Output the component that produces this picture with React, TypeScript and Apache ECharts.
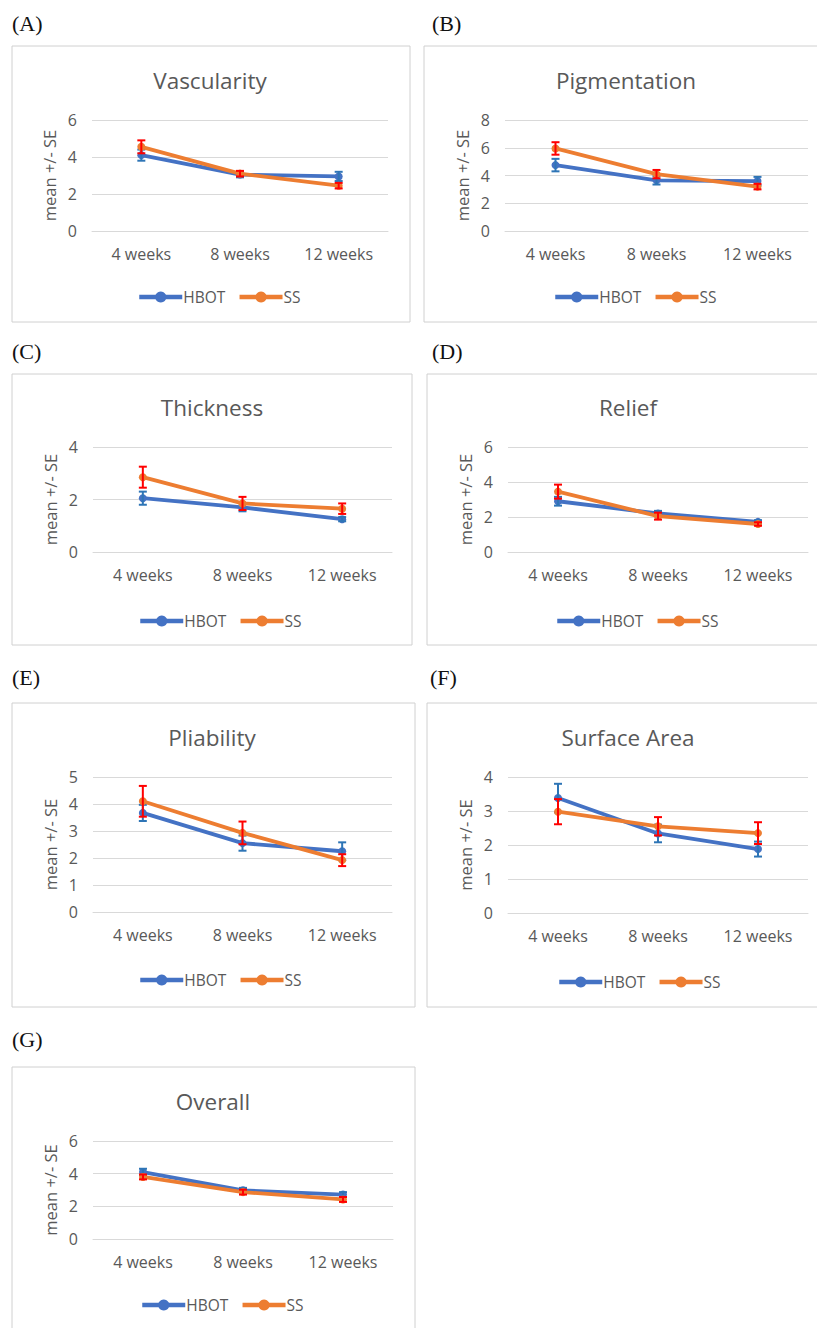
import React, { useEffect, useRef } from "react";
import * as echarts from "echarts";

const categories = ["4 weeks", "8 weeks", "12 weeks"];
const seriesNames = ["HBOT", "SS"];

const vascHBOT = [4.1, 3.05, 2.95];
const vascHBOTse = [0.3, 0.15, 0.25];
const vascSS = [4.55, 3.1, 2.45];
const vascSSse = [0.35, 0.15, 0.15];

const pigHBOT = [4.75, 3.65, 3.6];
const pigHBOTse = [0.45, 0.3, 0.3];
const pigSS = [5.95, 4.1, 3.2];
const pigSSse = [0.45, 0.3, 0.2];

const thickHBOT = [2.05, 1.7, 1.25];
const thickHBOTse = [0.25, 0.15, 0.08];
const thickSS = [2.85, 1.85, 1.65];
const thickSSse = [0.4, 0.25, 0.2];

const reliefHBOT = [2.9, 2.2, 1.72];
const reliefHBOTse = [0.25, 0.15, 0.1];
const reliefSS = [3.45, 2.05, 1.6];
const reliefSSse = [0.4, 0.2, 0.1];

const pliHBOT = [3.67, 2.55, 2.25];
const pliHBOTse = [0.3, 0.28, 0.33];
const pliSS = [4.1, 2.93, 1.92];
const pliSSse = [0.57, 0.42, 0.22];

const surfHBOT = [3.38, 2.34, 1.88];
const surfHBOTse = [0.42, 0.26, 0.22];
const surfSS = [2.98, 2.55, 2.35];
const surfSSse = [0.37, 0.27, 0.32];

const overallHBOT = [4.1, 2.98, 2.72];
const overallHBOTse = [0.2, 0.15, 0.15];
const overallSS = [3.8, 2.87, 2.42];
const overallSSse = [0.15, 0.15, 0.15];

const panelLabels = ["(A)", "(B)", "(C)", "(D)", "(E)", "(F)", "(G)"];
const panelTitles = ["Vascularity", "Pigmentation", "Thickness", "Relief", "Pliability", "Surface Area", "Overall"];
const yMax = [6, 8, 4, 6, 5, 4, 6];
const yStep = [2, 2, 2, 2, 1, 1, 2];

const dataSets = [
  [vascHBOT, vascHBOTse, vascSS, vascSSse],
  [pigHBOT, pigHBOTse, pigSS, pigSSse],
  [thickHBOT, thickHBOTse, thickSS, thickSSse],
  [reliefHBOT, reliefHBOTse, reliefSS, reliefSSse],
  [pliHBOT, pliHBOTse, pliSS, pliSSse],
  [surfHBOT, surfHBOTse, surfSS, surfSSse],
  [overallHBOT, overallHBOTse, overallSS, overallSSse],
];

// layout (pixels)
const layout = [
  { box: [12, 46, 398, 276], grid: [92, 120, 296, 111], title: [210, 80], label: [12, 23], legend: [132, 293] },
  { box: [424, 46, 400, 276], grid: [505, 120, 303, 111], title: [626, 80], label: [432, 23], legend: [548, 293] },
  { box: [12, 374, 400, 271], grid: [93, 447, 299, 105], title: [212, 407], label: [12, 351], legend: [133, 617] },
  { box: [427, 374, 400, 271], grid: [508, 447, 300, 105], title: [628, 407], label: [432, 351], legend: [550, 617] },
  { box: [12, 703, 403, 304], grid: [93, 777, 299, 135], title: [212, 737], label: [12, 677], legend: [133, 976] },
  { box: [427, 703, 400, 304], grid: [508, 777, 300, 136], title: [628, 737], label: [430, 677], legend: [552, 978] },
  { box: [12, 1067, 403, 280], grid: [93, 1141, 300, 98], title: [213, 1101], label: [12, 1039], legend: [135, 1301] },
];

const FONT = "'Open Sans', sans-serif";
const TXT = "#595959";
const GRID_C = "#D9D9D9";
const LINE_COLORS = ["#4472C4", "#ED7D31"];
const ERR_COLORS = ["#2E75B6", "#FF0000"];

function errRender(color: string) {
  return (params: any, api: any) => {
    const x = api.value(0);
    const lo = api.coord([x, api.value(1)]);
    const hi = api.coord([x, api.value(2)]);
    const w = 4;
    const st = { stroke: color, lineWidth: 2 };
    return {
      type: "group",
      children: [
        { type: "line", shape: { x1: lo[0], y1: lo[1], x2: hi[0], y2: hi[1] }, style: st },
        { type: "line", shape: { x1: lo[0] - w, y1: lo[1], x2: lo[0] + w, y2: lo[1] }, style: st },
        { type: "line", shape: { x1: hi[0] - w, y1: hi[1], x2: hi[0] + w, y2: hi[1] }, style: st },
      ],
    };
  };
}

function buildOption() {
  const grid: any[] = [];
  const xAxis: any[] = [];
  const yAxis: any[] = [];
  const series: any[] = [];
  const legend: any[] = [];
  const graphic: any[] = [];

  layout.forEach((L, i) => {
    grid.push({ left: L.grid[0], top: L.grid[1], width: L.grid[2], height: L.grid[3], containLabel: false });
    xAxis.push({
      type: "category",
      gridIndex: i,
      data: categories,
      boundaryGap: true,
      axisLine: { show: true, lineStyle: { color: GRID_C, width: 1 } },
      axisTick: { show: false },
      axisLabel: { color: TXT, fontSize: 16, fontFamily: FONT, margin: 15 },
    });
    yAxis.push({
      type: "value",
      gridIndex: i,
      min: 0,
      max: yMax[i],
      interval: yStep[i],
      name: "mean +/- SE",
      nameLocation: "middle",
      nameRotate: 90,
      nameGap: 34,
      nameTextStyle: { color: TXT, fontSize: 16.5, fontFamily: FONT },
      axisLine: { show: false },
      axisTick: { show: false },
      axisLabel: { color: TXT, fontSize: 16, fontFamily: FONT, margin: 15 },
      splitLine: { show: true, lineStyle: { color: GRID_C, width: 1 } },
    });
    const ds = dataSets[i];
    for (let s = 0; s < 2; s++) {
      const vals = ds[s * 2];
      const se = ds[s * 2 + 1];
      series.push({
        type: "line",
        name: seriesNames[s],
        xAxisIndex: i,
        yAxisIndex: i,
        data: vals,
        symbol: "circle",
        symbolSize: 8,
        color: LINE_COLORS[s],
        lineStyle: { color: LINE_COLORS[s], width: 3.8 },
        itemStyle: { color: LINE_COLORS[s] },
        z: 2 + s * 2,
      });
      series.push({
        type: "custom",
        name: seriesNames[s] + " error",
        xAxisIndex: i,
        yAxisIndex: i,
        renderItem: errRender(ERR_COLORS[s]),
        encode: { x: 0, y: [1, 2] },
        data: vals.map((v, k) => [k, v - se[k], v + se[k]]),
        z: 3 + s * 2,
        silent: true,
      });
    }
    legend.push({
      data: seriesNames,
      left: L.legend[0],
      top: L.legend[1] - 9,
      itemWidth: 43,
      itemHeight: 14,
      itemGap: 12,
      selectedMode: false,
      lineStyle: { width: 4.5 },
      textStyle: { color: TXT, fontSize: 15.5, fontFamily: FONT, padding: [0, 0, 0, -4] },
    });
    graphic.push({
      type: "rect",
      shape: { x: L.box[0], y: L.box[1], width: L.box[2], height: L.box[3] },
      style: { fill: "none", stroke: "#D0D0D0", lineWidth: 1 },
      silent: true,
      z: -1,
    });
    graphic.push({
      type: "text",
      x: L.title[0],
      y: L.title[1],
      style: {
        text: panelTitles[i],
        fill: TXT,
        font: `22.5px ${FONT}`,
        textAlign: "center",
        textVerticalAlign: "middle",
      },
    });
    graphic.push({
      type: "text",
      x: L.label[0],
      y: L.label[1],
      style: {
        text: panelLabels[i],
        fill: "#111111",
        font: "22px 'Liberation Serif', serif",
        textAlign: "left",
        textVerticalAlign: "middle",
      },
    });
  });

  return {
    animation: false,
    backgroundColor: "#ffffff",
    grid,
    xAxis,
    yAxis,
    series,
    legend,
    graphic,
  };
}

export default function App() {
  const ref = useRef<HTMLDivElement>(null);
  useEffect(() => {
    if (!ref.current) return;
    const chart = echarts.init(ref.current, undefined, { renderer: "svg" });
    chart.setOption(buildOption() as any);
    return () => chart.dispose();
  }, []);
  return (
    <div
      ref={ref}
      style={{ position: "absolute", left: 0, top: 0, width: 817, height: 1328 }}
    />
  );
}
